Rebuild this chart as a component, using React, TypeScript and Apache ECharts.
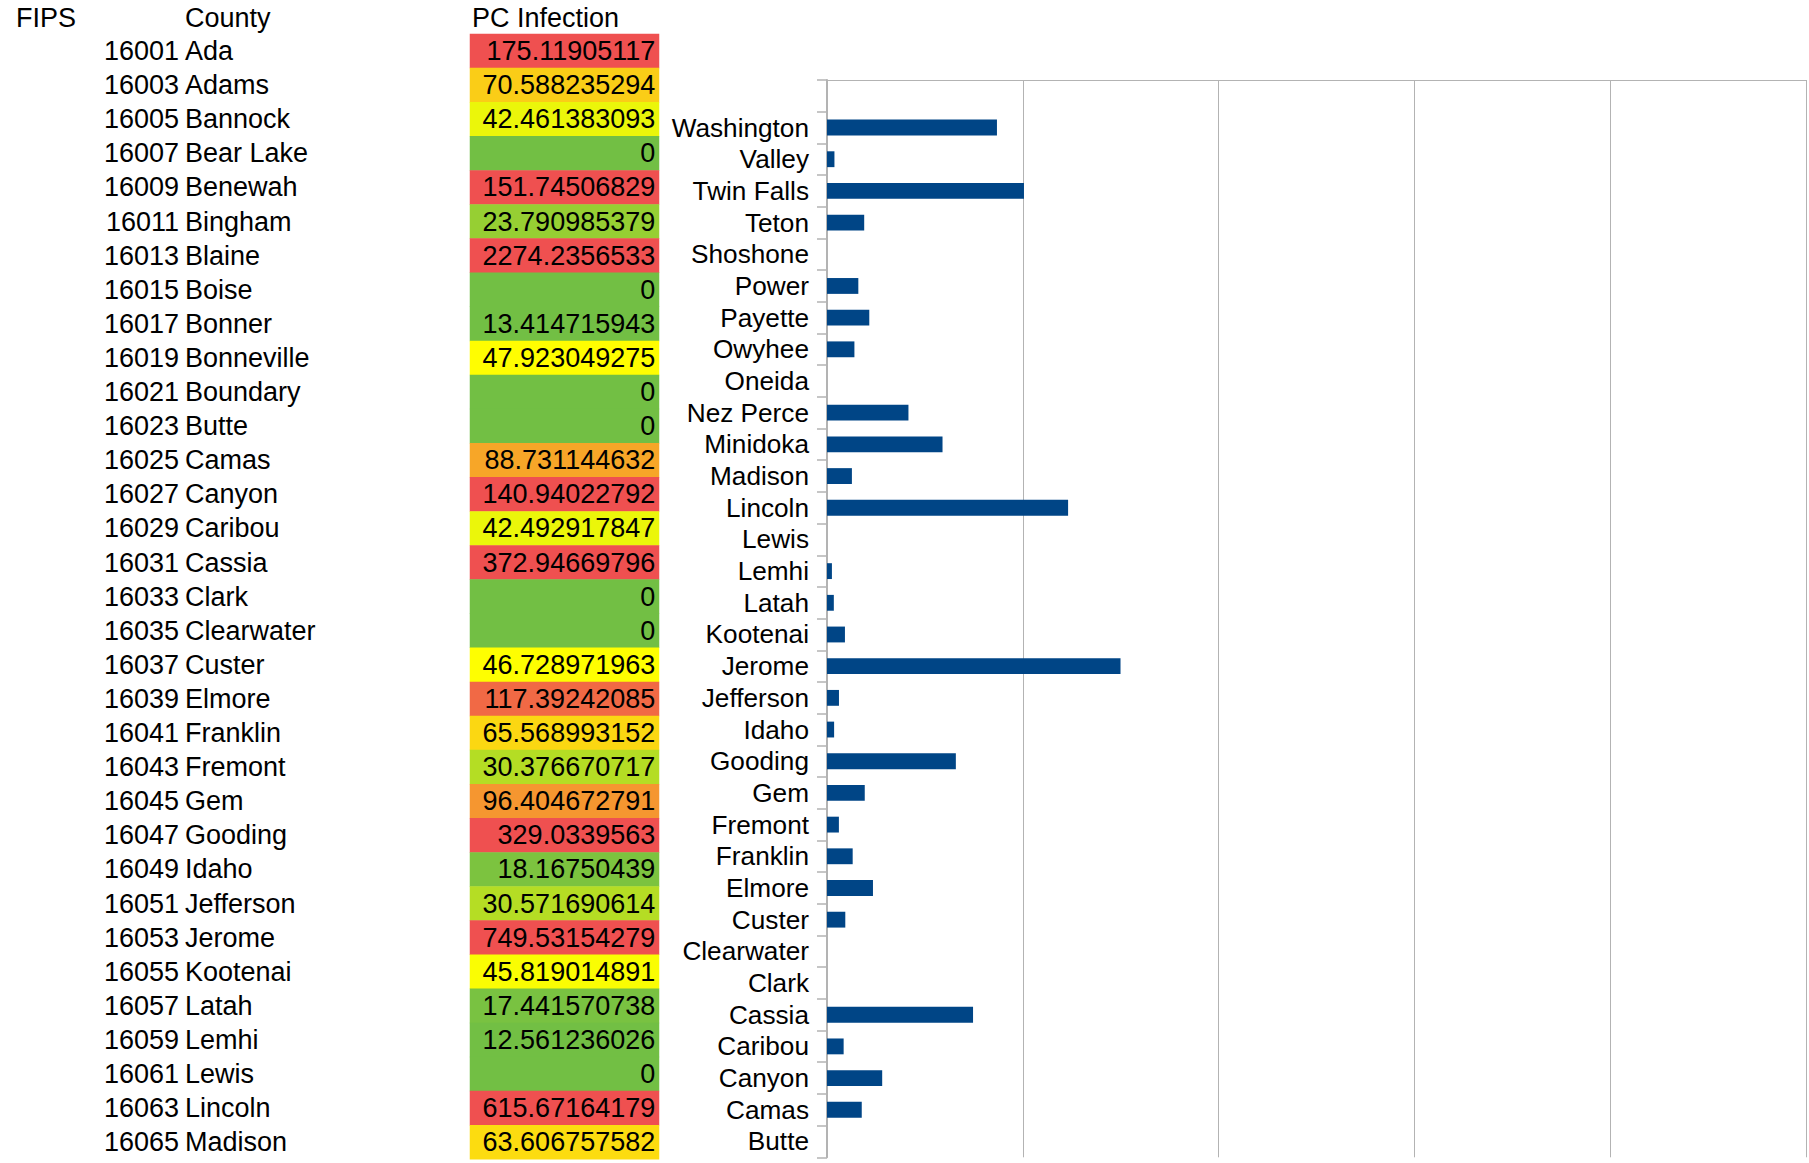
import React, { useEffect, useRef } from "react";
import * as echarts from "echarts";

// ---------- data ----------
const counties = [
  "Ada", "Adams", "Bannock", "Bear Lake", "Benewah", "Bingham", "Blaine", "Boise",
  "Bonner", "Bonneville", "Boundary", "Butte", "Camas", "Canyon", "Caribou", "Cassia",
  "Clark", "Clearwater", "Custer", "Elmore", "Franklin", "Fremont", "Gem", "Gooding",
  "Idaho", "Jefferson", "Jerome", "Kootenai", "Latah", "Lemhi", "Lewis", "Lincoln",
  "Madison", "Minidoka", "Nez Perce", "Oneida", "Owyhee", "Payette", "Power", "Shoshone",
  "Teton", "Twin Falls", "Valley", "Washington",
];

const fips = [
  16001, 16003, 16005, 16007, 16009, 16011, 16013, 16015, 16017, 16019, 16021, 16023,
  16025, 16027, 16029, 16031, 16033, 16035, 16037, 16039, 16041, 16043, 16045, 16047,
  16049, 16051, 16053, 16055, 16057, 16059, 16061, 16063, 16065, 16067, 16069, 16071,
  16073, 16075, 16077, 16079, 16081, 16083, 16085, 16087,
];

// first 33 read from the table, the rest estimated from the bars
const pcInfection = [
  175.11905117, 70.588235294, 42.461383093, 0, 151.74506829, 23.790985379, 2274.2356533, 0,
  13.414715943, 47.923049275, 0, 0, 88.731144632, 140.94022792, 42.492917847, 372.94669796,
  0, 0, 46.728971963, 117.39242085, 65.568993152, 30.376670717, 96.404672791, 329.0339563,
  18.16750439, 30.571690614, 749.53154279, 45.819014891, 17.441570738, 12.561236026, 0, 615.67164179,
  63.606757582, 295, 208, 0, 70, 108, 80, 0,
  95, 503, 19, 434,
];

const headers = ["FIPS", "County", "PC Infection"];
const tableRowCount = 33;
const visibleFirstCategory = 11; // Butte
const valueMin = 0;
const valueMax = 2500;
const valueInterval = 500;

// colour scale of the table (green -> yellow -> red)
const scaleMin = 16;
const scaleMax = 140;
const scaleColors = [
  "#72bf44", "#b9df22", "#ffff00", "#fcde0f", "#f9bd1e",
  "#f69c2d", "#f37b3c", "#f05a4c", "#ef5050",
];

const FONT = "'Liberation Sans', Arial, sans-serif";
const FS_TABLE = 27;
const FS_CHART = 26.2;
const GRID_COLOR = "#b3b3b3";
const TABLE_PAD = [4, 0, 0, 0];

export default function App() {
  const ref = useRef<HTMLDivElement>(null);

  useEffect(() => {
    if (!ref.current) return;
    const chart = echarts.init(ref.current, undefined, { renderer: "svg" });

    const tableCounties = counties.slice(0, tableRowCount);
    const tableFips = fips.slice(0, tableRowCount).map(String);
    const tableValues = pcInfection.slice(0, tableRowCount);
    const chartCats = [...counties, ""];
    const chartVals: (number | null)[] = [...pcInfection, null];

    const headerX = [16, 185, 472];

    const option: any = {
      animation: false,
      backgroundColor: "#ffffff",
      textStyle: { fontFamily: FONT },
      grid: [
        { left: 470, top: 34, width: 189, height: 1125.3 },
        { left: 827, top: 80, right: 3, bottom: 5.7 },
      ],
      xAxis: [
        { gridIndex: 0, type: "category", data: [headers[2]], show: false },
        {
          gridIndex: 1, type: "value", min: valueMin, max: valueMax, interval: valueInterval,
          axisLabel: { show: false }, axisLine: { show: false }, axisTick: { show: false },
          splitLine: { show: true, lineStyle: { color: GRID_COLOR, width: 1 } },
        },
        {
          gridIndex: 1, type: "value", position: "top", min: valueMin, max: valueMax, interval: valueInterval,
          axisLabel: { show: false }, axisTick: { show: false }, splitLine: { show: false },
          axisLine: { show: true, lineStyle: { color: GRID_COLOR, width: 1 } },
        },
      ],
      yAxis: [
        {
          gridIndex: 0, type: "category", data: tableCounties, inverse: true, position: "left",
          axisLine: { show: false }, axisTick: { show: false }, splitLine: { show: false },
          axisLabel: { interval: 0, align: "left", margin: 285, padding: TABLE_PAD, fontSize: FS_TABLE, fontFamily: FONT, color: "#000" },
        },
        {
          gridIndex: 0, type: "category", data: tableFips, inverse: true, position: "left", offset: 0,
          axisLine: { show: false }, axisTick: { show: false }, splitLine: { show: false },
          axisLabel: { interval: 0, align: "right", margin: 291, padding: TABLE_PAD, fontSize: FS_TABLE, fontFamily: FONT, color: "#000" },
        },
        {
          gridIndex: 1, type: "category", data: chartCats, position: "left",
          axisLine: { show: true, lineStyle: { color: GRID_COLOR, width: 2 } },
          axisTick: { show: true, interval: 0, length: 10, lineStyle: { color: GRID_COLOR, width: 1.5 } },
          splitLine: { show: false },
          axisLabel: { interval: 0, margin: 18, fontSize: FS_CHART, fontFamily: FONT, color: "#000" },
        },
      ],
      dataZoom: [
        {
          type: "inside", yAxisIndex: 2, filterMode: "filter",
          startValue: visibleFirstCategory, endValue: chartCats.length - 1,
          zoomOnMouseWheel: false, moveOnMouseMove: false, moveOnMouseWheel: false,
        },
      ],
      visualMap: {
        show: false, type: "continuous", seriesIndex: 0, dimension: 2,
        min: scaleMin, max: scaleMax, inRange: { color: scaleColors },
      },
      graphic: headers.map((h, i) => ({
        type: "text", x: headerX[i], y: 17.5,
        style: { text: h, fontSize: FS_TABLE, fontFamily: FONT, fill: "#000", align: "left", verticalAlign: "middle" },
      })),
      series: [
        {
          type: "heatmap", xAxisIndex: 0, yAxisIndex: 0,
          data: tableValues.map((v, i) => [0, i, v]),
          itemStyle: { borderWidth: 0 },
          emphasis: { disabled: true },
          label: {
            show: true, position: "insideRight", distance: 4, padding: TABLE_PAD,
            formatter: (p: any) => String(p.value[2]),
            fontSize: FS_TABLE, fontFamily: FONT, color: "#000",
          },
        },
        {
          type: "bar", xAxisIndex: 1, yAxisIndex: 2, data: chartVals,
          barWidth: "50%", itemStyle: { color: "#004586" },
          emphasis: { disabled: true },
        },
      ],
    };

    chart.setOption(option);
    return () => chart.dispose();
  }, []);

  return (
    <div style={{ position: "fixed", left: 0, top: 0, width: 1809, height: 1163, overflow: "hidden", background: "#fff" }}>
      <div ref={ref} style={{ width: 1809, height: 1163 }} />
    </div>
  );
}
